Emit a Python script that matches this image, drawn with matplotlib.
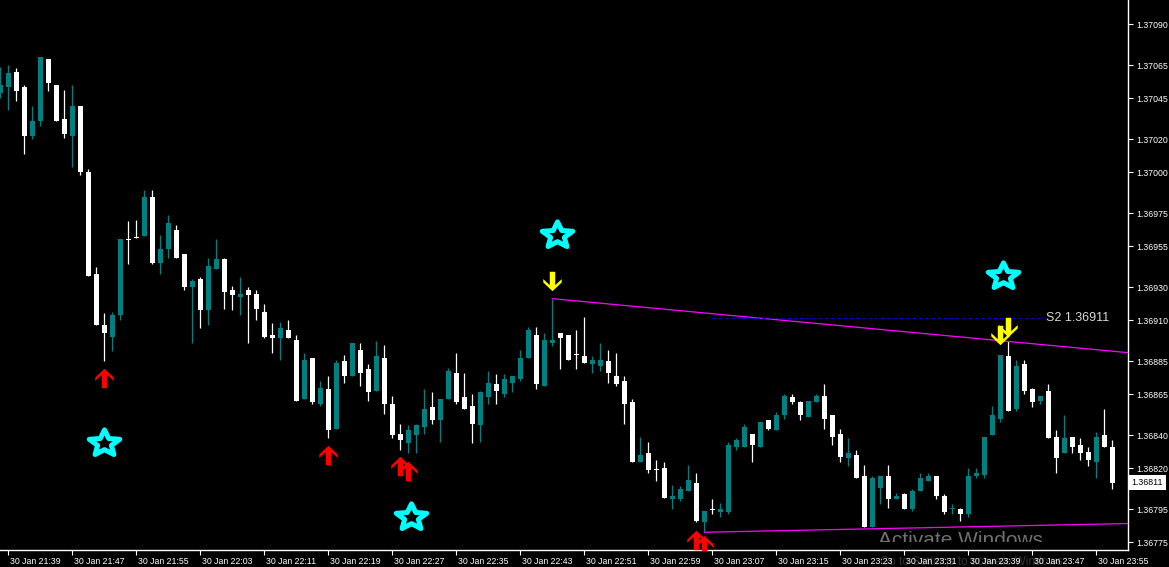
#!/usr/bin/env python3
"""
1-minute candle chart, 30 Jan 21:38 - 23:57, MT4-style dark theme
"""

import numpy as np
import matplotlib
matplotlib.use("Agg")
import matplotlib.pyplot as plt
from matplotlib.path import Path
from matplotlib.markers import MarkerStyle
from matplotlib import transforms

# --- candles (one per minute, first one 21:38) ---
opens = [
    1.37048, 1.37052, 1.37061, 1.37052, 1.37022, 1.37031, 1.37069, 1.37053, 1.37032, 1.37022,
    1.37040, 1.37000, 1.36938, 1.36907, 1.36900, 1.36913, 1.36959, 1.36960, 1.36961, 1.36985,
    1.36945, 1.36953, 1.36965, 1.36950, 1.36930, 1.36935, 1.36916, 1.36941, 1.36947, 1.36928,
    1.36924, 1.36928, 1.36926, 1.36915, 1.36901, 1.36899, 1.36904, 1.36898, 1.36862, 1.36887,
    1.36859, 1.36868, 1.36844, 1.36885, 1.36876, 1.36892, 1.36880, 1.36867, 1.36887, 1.36859,
    1.36841, 1.36835, 1.36840, 1.36845, 1.36857, 1.36849, 1.36862, 1.36878, 1.36863, 1.36858,
    1.36846, 1.36863, 1.36871, 1.36865, 1.36872, 1.36874, 1.36887, 1.36901, 1.36870, 1.36896,
    1.36902, 1.36901, 1.36889, 1.36888, 1.36883, 1.36882, 1.36885, 1.36876, 1.36873, 1.36860,
    1.36824, 1.36829, 1.36819, 1.36820, 1.36801, 1.36801, 1.36806, 1.36811, 1.36787, 1.36795,
    1.36793, 1.36793, 1.36833, 1.36833, 1.36841, 1.36833, 1.36849, 1.36843, 1.36852, 1.36863,
    1.36860, 1.36851, 1.36860, 1.36864, 1.36852, 1.36841, 1.36826, 1.36828, 1.36815, 1.36784,
    1.36808, 1.36815, 1.36801, 1.36804, 1.36795, 1.36806, 1.36812, 1.36815, 1.36803, 1.36795,
    1.36795, 1.36792, 1.36815, 1.36816, 1.36840, 1.36850, 1.36888, 1.36856, 1.36883, 1.36868,
    1.36861, 1.36867, 1.36839, 1.36829, 1.36839, 1.36834, 1.36830, 1.36824, 1.36840, 1.36833,
]
highs = [
    1.37064, 1.37065, 1.37063, 1.37053, 1.37040, 1.37070, 1.37069, 1.37053, 1.37050, 1.37053,
    1.37040, 1.37002, 1.36942, 1.36914, 1.36915, 1.36959, 1.36970, 1.36971, 1.36989, 1.36989,
    1.36962, 1.36974, 1.36968, 1.36950, 1.36935, 1.36936, 1.36948, 1.36959, 1.36948, 1.36931,
    1.36936, 1.36930, 1.36928, 1.36920, 1.36908, 1.36909, 1.36910, 1.36901, 1.36890, 1.36887,
    1.36873, 1.36876, 1.36886, 1.36889, 1.36896, 1.36896, 1.36883, 1.36897, 1.36895, 1.36864,
    1.36847, 1.36846, 1.36847, 1.36868, 1.36866, 1.36862, 1.36881, 1.36890, 1.36878, 1.36865,
    1.36867, 1.36879, 1.36877, 1.36877, 1.36876, 1.36892, 1.36906, 1.36906, 1.36902, 1.36923,
    1.36902, 1.36901, 1.36904, 1.36912, 1.36888, 1.36896, 1.36892, 1.36890, 1.36876, 1.36862,
    1.36839, 1.36836, 1.36825, 1.36824, 1.36810, 1.36809, 1.36822, 1.36817, 1.36794, 1.36801,
    1.36799, 1.36836, 1.36838, 1.36847, 1.36841, 1.36848, 1.36849, 1.36854, 1.36865, 1.36865,
    1.36861, 1.36861, 1.36865, 1.36871, 1.36852, 1.36844, 1.36838, 1.36831, 1.36822, 1.36815,
    1.36815, 1.36822, 1.36805, 1.36805, 1.36807, 1.36817, 1.36817, 1.36815, 1.36804, 1.36798,
    1.36796, 1.36820, 1.36820, 1.36839, 1.36858, 1.36889, 1.36897, 1.36886, 1.36886, 1.36869,
    1.36864, 1.36871, 1.36843, 1.36852, 1.36839, 1.36838, 1.36833, 1.36842, 1.36856, 1.36837,
]
lows = [
    1.37045, 1.37038, 1.37043, 1.37011, 1.37020, 1.37028, 1.37049, 1.37031, 1.37021, 1.37003,
    1.36998, 1.36937, 1.36907, 1.36885, 1.36891, 1.36910, 1.36944, 1.36960, 1.36961, 1.36944,
    1.36938, 1.36948, 1.36948, 1.36928, 1.36896, 1.36905, 1.36907, 1.36941, 1.36917, 1.36916,
    1.36913, 1.36896, 1.36910, 1.36899, 1.36890, 1.36886, 1.36899, 1.36861, 1.36862, 1.36859,
    1.36858, 1.36838, 1.36844, 1.36872, 1.36876, 1.36870, 1.36861, 1.36867, 1.36853, 1.36838,
    1.36831, 1.36829, 1.36829, 1.36841, 1.36847, 1.36836, 1.36862, 1.36859, 1.36856, 1.36835,
    1.36836, 1.36859, 1.36859, 1.36863, 1.36866, 1.36873, 1.36887, 1.36868, 1.36870, 1.36894,
    1.36880, 1.36886, 1.36880, 1.36884, 1.36878, 1.36879, 1.36872, 1.36870, 1.36847, 1.36824,
    1.36824, 1.36817, 1.36812, 1.36802, 1.36795, 1.36800, 1.36806, 1.36787, 1.36781, 1.36792,
    1.36790, 1.36792, 1.36831, 1.36833, 1.36824, 1.36833, 1.36843, 1.36843, 1.36850, 1.36859,
    1.36849, 1.36851, 1.36860, 1.36844, 1.36834, 1.36824, 1.36821, 1.36814, 1.36784, 1.36784,
    1.36798, 1.36796, 1.36801, 1.36795, 1.36794, 1.36806, 1.36812, 1.36801, 1.36792, 1.36792,
    1.36788, 1.36790, 1.36814, 1.36814, 1.36840, 1.36848, 1.36855, 1.36855, 1.36865, 1.36857,
    1.36859, 1.36838, 1.36817, 1.36829, 1.36829, 1.36825, 1.36821, 1.36814, 1.36833, 1.36807,
]
closes = [
    1.37053, 1.37060, 1.37049, 1.37022, 1.37031, 1.37070, 1.37054, 1.37031, 1.37023, 1.37040,
    1.37000, 1.36937, 1.36907, 1.36902, 1.36913, 1.36959, 1.36959, 1.36960, 1.36985, 1.36945,
    1.36953, 1.36969, 1.36948, 1.36930, 1.36934, 1.36916, 1.36943, 1.36947, 1.36927, 1.36925,
    1.36926, 1.36925, 1.36917, 1.36900, 1.36899, 1.36905, 1.36899, 1.36861, 1.36886, 1.36860,
    1.36869, 1.36843, 1.36884, 1.36876, 1.36896, 1.36878, 1.36866, 1.36888, 1.36859, 1.36840,
    1.36837, 1.36843, 1.36846, 1.36856, 1.36849, 1.36862, 1.36879, 1.36860, 1.36856, 1.36847,
    1.36866, 1.36872, 1.36867, 1.36874, 1.36876, 1.36887, 1.36904, 1.36871, 1.36898, 1.36898,
    1.36899, 1.36886, 1.36889, 1.36884, 1.36886, 1.36886, 1.36878, 1.36871, 1.36859, 1.36824,
    1.36828, 1.36819, 1.36819, 1.36802, 1.36803, 1.36807, 1.36813, 1.36788, 1.36794, 1.36795,
    1.36795, 1.36834, 1.36837, 1.36845, 1.36834, 1.36848, 1.36844, 1.36852, 1.36864, 1.36860,
    1.36852, 1.36861, 1.36864, 1.36850, 1.36839, 1.36827, 1.36829, 1.36814, 1.36784, 1.36814,
    1.36815, 1.36801, 1.36803, 1.36795, 1.36806, 1.36814, 1.36815, 1.36803, 1.36793, 1.36796,
    1.36792, 1.36815, 1.36817, 1.36839, 1.36852, 1.36889, 1.36855, 1.36882, 1.36867, 1.36860,
    1.36864, 1.36838, 1.36826, 1.36838, 1.36833, 1.36829, 1.36825, 1.36839, 1.36833, 1.36811,
]

# --- time axis ---
time_tick_bars = [1, 9, 17, 25, 33, 41, 49, 57, 65, 73, 81, 89, 97, 105, 113, 121, 129, 137]
time_labels = [
    "30 Jan 21:39", "30 Jan 21:47", "30 Jan 21:55", "30 Jan 22:03", "30 Jan 22:11",
    "30 Jan 22:19", "30 Jan 22:27", "30 Jan 22:35", "30 Jan 22:43", "30 Jan 22:51",
    "30 Jan 22:59", "30 Jan 23:07", "30 Jan 23:15", "30 Jan 23:23", "30 Jan 23:31",
    "30 Jan 23:39", "30 Jan 23:47", "30 Jan 23:55",
]

# --- price axis ---
price_ticks = [1.37090, 1.37065, 1.37045, 1.37020, 1.37000, 1.36975, 1.36955, 1.36930,
               1.36910, 1.36885, 1.36865, 1.36840, 1.36820, 1.36795, 1.36775]
price_min, price_max = 1.367702, 1.371046
last_price = 1.36811

# --- indicator signals ---
buy_bars = [13, 41, 50, 51, 87, 88]
buy_levels = [1.36875, 1.36828, 1.36821, 1.36818, 1.36776, 1.36773]
sell_bars = [69, 125, 126]
sell_levels = [1.36934, 1.36901, 1.36906]
star_bars = [12.9, 51.3, 69.6, 125.3]
star_levels = [1.36835, 1.36790, 1.36962, 1.36937]

# trend lines: two anchor points each, drawn as rays to the right edge
upper_anchor_bars = [69, 126]
upper_anchor_levels = [1.36923, 1.36897]
lower_anchor_bars = [88, 108]
lower_anchor_levels = [1.36781, 1.36783]

# S2 pivot level
s2_level = 1.36911
s2_start, s2_end = 89, 130.5

BULL = "#008080"
BEAR = "#ffffff"
FONT = "Liberation Sans"


def arrow_marker(down=False):
    # –∂–∏—Ä–Ω–∞—è —Å—Ç—Ä–µ–ª–∫–∞ –∫–∞–∫ –≤ Wingdings
    verts = [(0, 1), (0.95, 0.1), (0.95, -0.25), (0.28, 0.38), (0.28, -1),
             (-0.28, -1), (-0.28, 0.38), (-0.95, -0.25), (-0.95, 0.1), (0, 1)]
    if down:
        verts = [(vx, -vy) for vx, vy in verts]
    return MarkerStyle(Path(verts, closed=True))


def star_marker():
    ang = np.pi / 2 + np.arange(10) * np.pi / 5
    rad = np.where(np.arange(10) % 2 == 0, 1.0, 0.45)
    verts = np.column_stack([rad * np.cos(ang), 0.85 * rad * np.sin(ang)])
    verts = np.vstack([verts, verts[:1]])
    return MarkerStyle(Path(verts, closed=True))


def main():
    fig = plt.figure(figsize=(11.69, 5.67), dpi=100, facecolor="black")
    ax = fig.add_axes([0, 17 / 567, 1128 / 1169, 550 / 567], facecolor="black")

    x = np.arange(len(opens))
    o = np.array(opens)
    c = np.array(closes)
    colors = [BULL if cc > oo else BEAR for oo, cc in zip(o, c)]

    # —Ñ–∏—Ç–∏–ª–∏ –∏ —Ç–µ–ª–∞ —Å–≤–µ—á–µ–π
    ax.vlines(x, lows, highs, colors=colors, lw=0.9, zorder=2)
    body_lo = np.minimum(o, c)
    body_h = np.abs(c - o)
    min_h = 0.000006
    body_lo = np.where(body_h < min_h, body_lo - min_h / 2, body_lo)
    body_h = np.maximum(body_h, min_h)
    ax.bar(x, body_h, bottom=body_lo, width=0.62, color=colors, lw=0,
           antialiased=False, zorder=3)

    # —Ç—Ä–µ–Ω–¥–æ–≤—ã–µ –ª–∏–Ω–∏–∏
    x_right = 140.96
    for bars, levels in ((upper_anchor_bars, upper_anchor_levels),
                         (lower_anchor_bars, lower_anchor_levels)):
        slope = (levels[1] - levels[0]) / (bars[1] - bars[0])
        end_level = levels[0] + slope * (x_right - bars[0])
        ax.plot([bars[0], x_right], [levels[0], end_level], color="#ff00ff",
                lw=0.9, zorder=4)

    # S2
    ax.hlines(s2_level, s2_start, s2_end, colors="#0000ff", lw=0.75,
              linestyles=(0, (3, 3)), zorder=4)
    ax.text(s2_end + 0.2, s2_level, "S2 1.36911", color="#d8d8d8", fontsize=9,
            family=FONT, ha="left", va="center", zorder=5)

    # —Å–∏–≥–Ω–∞–ª—ã
    ax.plot(buy_bars, buy_levels, ls="none", marker=arrow_marker(), ms=14,
            color="#ff0000", mew=0, zorder=6)
    ax.plot(sell_bars, sell_levels, ls="none", marker=arrow_marker(down=True),
            ms=14, color="#ffff00", mew=0, zorder=6)
    ax.plot(star_bars, star_levels, ls="none", marker=star_marker(), ms=22,
            mfc="none", mec="#00ffff", mew=3.6, zorder=6)

    # Windows watermark (only its upper part shows above the taskbar edge)
    wm = ax.text(0.778, 0.034, "Activate Windows", transform=ax.transAxes,
                 color="#707070", fontsize=15, family=FONT,
                 ha="left", va="top", zorder=1, clip_on=True)
    wm.set_clip_box(transforms.TransformedBbox(
        transforms.Bbox([[0.7, 8 / 550], [1.0, 0.3]]), ax.transAxes))
    fig.text(880 / 1169, 5 / 567, "Go to Settings to activate Windows.",
             color="#333333", fontsize=8.5, family=FONT,
             ha="left", va="center", zorder=-1)

    ax.set_xlim(-0.04, x_right)
    ax.set_ylim(price_min, price_max)

    # –æ—Å–∏
    for side in ("left", "top"):
        ax.spines[side].set_visible(False)
    for side in ("right", "bottom"):
        ax.spines[side].set_color("white")
        ax.spines[side].set_linewidth(1.0)

    ax.yaxis.tick_right()
    ax.set_yticks(price_ticks)
    ax.set_yticklabels([f"{p:.5f}" for p in price_ticks])
    ax.tick_params(axis="y", colors="white", labelsize=6.3, length=3.5, width=0.8,
                   pad=2.5, labelcolor="white")
    for lab in ax.get_yticklabels():
        lab.set_family(FONT)

    ax.set_xticks(time_tick_bars)
    ax.set_xticklabels(time_labels)
    ax.tick_params(axis="x", colors="white", labelsize=6.3, length=3.5, width=0.8,
                   pad=1.5, labelcolor="white")
    shift = transforms.ScaledTranslation(2 / 100, 0, fig.dpi_scale_trans)
    for lab in ax.get_xticklabels():
        lab.set_family(FONT)
        lab.set_horizontalalignment("left")
        lab.set_transform(lab.get_transform() + shift)

    # —Ç–µ–∫—É—â–∞—è —Ü–µ–Ω–∞
    trans = transforms.blended_transform_factory(ax.transAxes, ax.transData)
    ax.text(1.003, last_price, f"{last_price:.5f}", transform=trans,
            color="black", fontsize=6.3, family=FONT,
            ha="left", va="center", clip_on=False, zorder=10,
            bbox=dict(facecolor="white", edgecolor="none", pad=2.2))

    fig.savefig("out.png", dpi=100, facecolor="black")
    plt.close(fig)


if __name__ == "__main__":
    main()
